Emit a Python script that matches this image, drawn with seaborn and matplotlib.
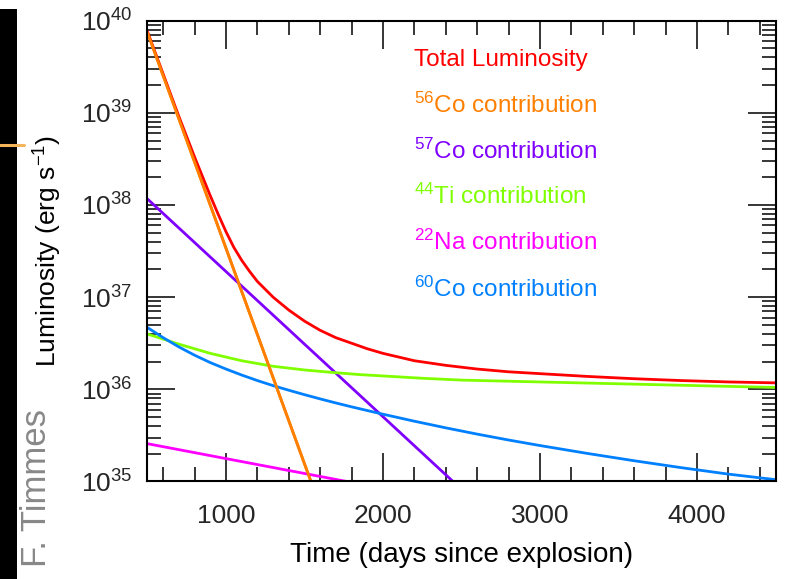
import numpy as np
import pandas as pd
import matplotlib
matplotlib.use("Agg")
import matplotlib.pyplot as plt
import seaborn as sns
from matplotlib.ticker import MultipleLocator, LogLocator, NullFormatter
from matplotlib.patches import Rectangle
from matplotlib.lines import Line2D

# ---------------- data (log10 of erg/s) ----------------
total_days = [500, 550, 600, 650, 700, 750, 800, 850, 900, 950, 1000, 1050, 1100,
              1150, 1200, 1300, 1400, 1500, 1600, 1700, 1800, 1900, 2000, 2200,
              2400, 2600, 2800, 3000, 3300, 3600, 3900, 4200, 4500]
total_log = [39.88, 39.65, 39.42, 39.19, 38.96, 38.74, 38.52, 38.31, 38.10, 37.90,
             37.71, 37.54, 37.40, 37.28, 37.17, 37.00, 36.86, 36.74, 36.64, 36.56,
             36.50, 36.44, 36.39, 36.31, 36.26, 36.22, 36.19, 36.17, 36.14, 36.115,
             36.095, 36.08, 36.07]

co56_days = [500, 1000, 1541]
co56_log = [39.87, 37.53, 35.0]

co57_days = [500, 1078, 2446]
co57_log = [38.065, 37.155, 35.0]

ti44_days = [500, 600, 700, 800, 900, 1000, 1100, 1200, 1300, 1400, 1500, 1600,
             1700, 1850, 2000, 2250, 2500, 2750, 3000, 3500, 4000, 4500]
ti44_log = [36.60, 36.545, 36.49, 36.44, 36.39, 36.35, 36.31, 36.28, 36.25, 36.23,
            36.21, 36.195, 36.18, 36.16, 36.145, 36.12, 36.10, 36.09, 36.08, 36.06,
            36.04, 36.02]

na22_days = [500, 1769]
na22_log = [35.41, 35.0]

co60_days = [500, 600, 700, 800, 900, 1000, 1100, 1200, 1300, 1400, 1500, 1600,
             1700, 1800, 2000, 2200, 2400, 2600, 2800, 3000, 3300, 3600, 3900,
             4200, 4500]
co60_log = [36.67, 36.56, 36.46, 36.37, 36.29, 36.22, 36.155, 36.095, 36.04, 35.99,
            35.942, 35.896, 35.852, 35.81, 35.73, 35.654, 35.582, 35.514, 35.45,
            35.39, 35.305, 35.225, 35.15, 35.08, 35.02]

labels = ["Total Luminosity", r"$^{56}$Co contribution", r"$^{57}$Co contribution",
          r"$^{44}$Ti contribution", r"$^{22}$Na contribution", r"$^{60}$Co contribution"]
colors = ["#FF0000", "#FF8000", "#7F00FF", "#80FF00", "#FF00FF", "#0080FF"]

x_ticks = [1000, 2000, 3000, 4000]
x_label = "Time (days since explosion)"
y_label = r"Luminosity (erg s$^{-1}$)"
credit = "F. Timmes"

# ---------------- style ----------------
sns.set_theme(style="ticks")
plt.rcParams["font.family"] = ["Liberation Sans", "DejaVu Sans"]
plt.rcParams["mathtext.fontset"] = "custom"
plt.rcParams["mathtext.rm"] = "Liberation Sans"
plt.rcParams["mathtext.it"] = "Liberation Sans:italic"
plt.rcParams["mathtext.bf"] = "Liberation Sans:bold"
plt.rcParams["mathtext.default"] = "regular"

fig = plt.figure(figsize=(7.87, 5.79), dpi=100)
ax = fig.add_axes([0.1874, 0.1684, 0.798, 0.7960])

series = [
    (total_days, total_log),
    (co56_days, co56_log),
    (co57_days, co57_log),
    (ti44_days, ti44_log),
    (na22_days, na22_log),
    (co60_days, co60_log),
]
order = [1, 2, 3, 4, 5, 0]
for i in order:
    d, lg = series[i]
    df = pd.DataFrame({"days": d, "lum": 10.0 ** np.asarray(lg)})
    sns.lineplot(data=df, x="days", y="lum", ax=ax, color=colors[i], lw=2.0,
                 sort=False, estimator=None)
# orange drawn again on top at the start, as in the reference
df56 = pd.DataFrame({"days": co56_days, "lum": 10.0 ** np.asarray(co56_log)})
sns.lineplot(data=df56, x="days", y="lum", ax=ax, color=colors[1], lw=2.0,
             sort=False, estimator=None)

ax.set_yscale("log")
ax.set_xlim(500, 4500)
ax.set_ylim(1e35, 1e40)

ax.xaxis.set_minor_locator(MultipleLocator(200))
ax.set_xticks(x_ticks)
ax.set_xticklabels([str(t) for t in x_ticks])
ax.yaxis.set_major_locator(LogLocator(base=10, numticks=10))
ax.yaxis.set_minor_locator(LogLocator(base=10, subs=np.arange(2, 10), numticks=20))
ax.yaxis.set_minor_formatter(NullFormatter())

ax.tick_params(which="both", direction="in", top=True, right=True, color="black",
               width=1.1)
ax.tick_params(which="major", length=20)
ax.tick_params(which="minor", length=10)
ax.tick_params(axis="x", which="major", labelsize=19, pad=16)
ax.tick_params(axis="y", which="major", labelsize=19, pad=11)
for s in ax.spines.values():
    s.set_linewidth(1.5)
    s.set_color("black")

ax.set_xlabel(x_label, fontsize=20, labelpad=10, color="black")
ax.set_ylabel(y_label, fontsize=19, labelpad=12, color="black")

# legend-like coloured text
base_y = [66, 112.5, 158.5, 204, 250, 296.5]
for lab, col, yp in zip(labels, colors, base_y):
    fig.text(414 / 787, 1 - yp / 579, lab, color=col, fontsize=17.5,
             ha="left", va="baseline")

# decorations at the left edge of the slide
fig.patches.append(Rectangle((0, 0), 17 / 787, (579 - 9) / 579,
                             transform=fig.transFigure, facecolor="black",
                             edgecolor="none", zorder=0))
fig.lines.append(Line2D([0, 24 / 787], [1 - 145 / 579, 1 - 145 / 579],
                        transform=fig.transFigure, color="#F5B45A", lw=2.2))
fig.text(37 / 787, 1 - 488 / 579, credit, rotation=90, color="#888888",
         fontsize=25, ha="center", va="center")

fig.savefig("out.png", dpi=100)
